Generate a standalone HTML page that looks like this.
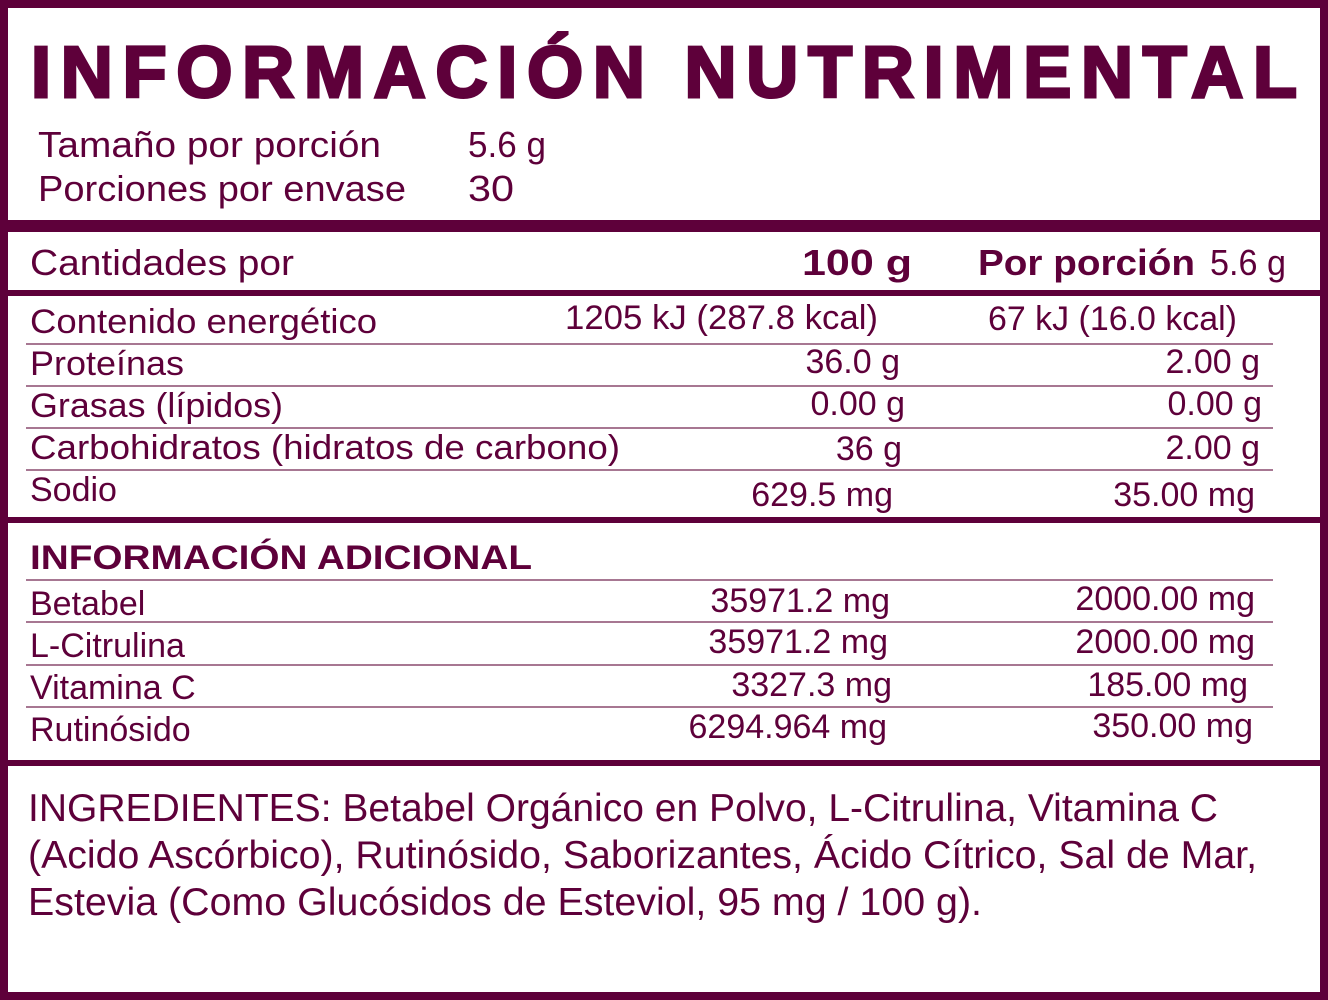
<!DOCTYPE html>
<html><head><meta charset="utf-8"><style>
html,body{margin:0;padding:0;background:#fff;}
svg{display:block;}
text{font-family:"Liberation Sans",sans-serif;fill:#5e003a;}
.b{font-weight:bold;}
</style></head><body>
<svg width="1328" height="1000" viewBox="0 0 1328 1000" xmlns="http://www.w3.org/2000/svg">
<g fill="#5e003a">
<rect x="0" y="0" width="1328" height="8"/>
<rect x="0" y="992" width="1328" height="8"/>
<rect x="0" y="0" width="8" height="1000"/>
<rect x="1320" y="0" width="8" height="1000"/>
<rect x="0" y="220" width="1328" height="12"/>
<rect x="0" y="290" width="1328" height="6"/>
<rect x="0" y="517" width="1328" height="6"/>
<rect x="0" y="760" width="1328" height="6"/>
</g>
<g stroke="#8a4a6e" stroke-width="1.5">
<line x1="26" y1="344" x2="1273" y2="344"/>
<line x1="26" y1="386" x2="1273" y2="386"/>
<line x1="26" y1="428" x2="1273" y2="428"/>
<line x1="26" y1="470" x2="1273" y2="470"/>
<line x1="26" y1="580" x2="1273" y2="580"/>
<line x1="26" y1="622" x2="1273" y2="622"/>
<line x1="26" y1="665" x2="1273" y2="665"/>
<line x1="26" y1="707" x2="1273" y2="707"/>
</g>
<text class="b" x="31" y="97" font-size="72" stroke="#5e003a" stroke-width="3" textLength="1266" lengthAdjust="spacing">INFORMACIÓN NUTRIMENTAL</text>
<g font-size="36">
<text x="38" y="157" textLength="343" lengthAdjust="spacingAndGlyphs">Tamaño por porción</text>
<text x="468" y="157" textLength="78" lengthAdjust="spacingAndGlyphs">5.6 g</text>
<text x="38" y="201" textLength="368" lengthAdjust="spacingAndGlyphs">Porciones por envase</text>
<text x="468" y="201" textLength="46" lengthAdjust="spacingAndGlyphs">30</text>
<text x="30" y="275" textLength="264" lengthAdjust="spacingAndGlyphs">Cantidades por</text>
<text class="b" x="802" y="275" textLength="110" lengthAdjust="spacingAndGlyphs">100 g</text>
<text class="b" x="978" y="275" textLength="217" lengthAdjust="spacingAndGlyphs">Por porción</text>
<text x="1210" y="275" textLength="76" lengthAdjust="spacingAndGlyphs">5.6 g</text>
</g>
<g font-size="34">
<text x="30" y="333" textLength="347" lengthAdjust="spacingAndGlyphs">Contenido energético</text>
<text x="565" y="329" textLength="313" lengthAdjust="spacingAndGlyphs">1205 kJ (287.8 kcal)</text>
<text x="988" y="330" textLength="249" lengthAdjust="spacingAndGlyphs">67 kJ (16.0 kcal)</text>
<text x="30" y="375" textLength="154" lengthAdjust="spacingAndGlyphs">Proteínas</text>
<text x="900" y="373" text-anchor="end">36.0 g</text>
<text x="1260" y="373" text-anchor="end">2.00 g</text>
<text x="30" y="417" textLength="253" lengthAdjust="spacingAndGlyphs">Grasas (lípidos)</text>
<text x="905" y="415" text-anchor="end">0.00 g</text>
<text x="1262" y="415" text-anchor="end">0.00 g</text>
<text x="30" y="459" textLength="590" lengthAdjust="spacingAndGlyphs">Carbohidratos (hidratos de carbono)</text>
<text x="902" y="460" text-anchor="end">36 g</text>
<text x="1260" y="459" text-anchor="end">2.00 g</text>
<text x="30" y="501">Sodio</text>
<text x="893" y="506" text-anchor="end">629.5 mg</text>
<text x="1255" y="506" text-anchor="end">35.00 mg</text>
<text class="b" x="30" y="569" textLength="502" lengthAdjust="spacingAndGlyphs">INFORMACIÓN ADICIONAL</text>
<text x="30" y="615">Betabel</text>
<text x="890" y="612" text-anchor="end">35971.2 mg</text>
<text x="1255" y="610" text-anchor="end">2000.00 mg</text>
<text x="30" y="657">L-Citrulina</text>
<text x="888" y="653" text-anchor="end">35971.2 mg</text>
<text x="1255" y="653" text-anchor="end">2000.00 mg</text>
<text x="30" y="699">Vitamina C</text>
<text x="892" y="696" text-anchor="end">3327.3 mg</text>
<text x="1248" y="696" text-anchor="end">185.00 mg</text>
<text x="30" y="741">Rutinósido</text>
<text x="887" y="738" text-anchor="end">6294.964 mg</text>
<text x="1253" y="737" text-anchor="end">350.00 mg</text>
</g>
<g font-size="39">
<text x="28" y="821" textLength="1190" lengthAdjust="spacingAndGlyphs">INGREDIENTES: Betabel Orgánico en Polvo, L-Citrulina, Vitamina C</text>
<text x="28" y="868" textLength="1229" lengthAdjust="spacingAndGlyphs">(Acido Ascórbico), Rutinósido, Saborizantes, Ácido Cítrico, Sal de Mar,</text>
<text x="28" y="915" textLength="954" lengthAdjust="spacingAndGlyphs">Estevia (Como Glucósidos de Esteviol, 95 mg / 100 g).</text>
</g>
</svg>
</body></html>
